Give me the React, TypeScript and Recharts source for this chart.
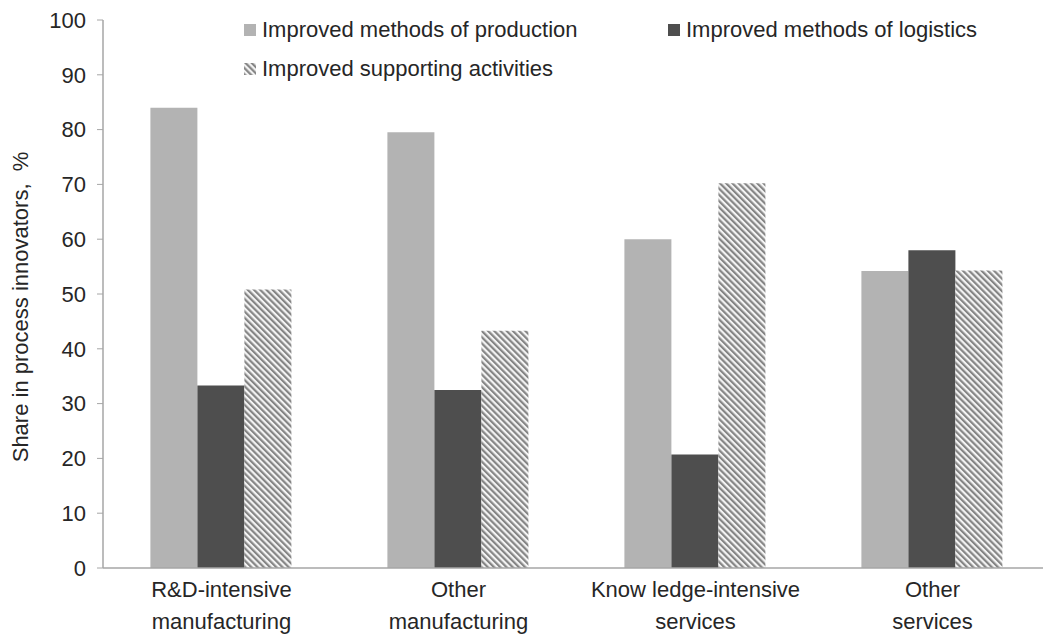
import { Bar, BarChart, Legend, XAxis, YAxis } from "recharts"

const categories = [
  "R&D-intensive\nmanufacturing",
  "Other\nmanufacturing",
  "Know ledge-intensive\nservices",
  "Other\nservices",
]
const production = [84, 79.5, 60, 54.2]
const logistics = [33.3, 32.5, 20.7, 58]
const supporting = [50.8, 43.3, 70.2, 54.3]
const yTicks = [0, 10, 20, 30, 40, 50, 60, 70, 80, 90, 100]

const seriesNames = [
  "Improved methods of production",
  "Improved methods of logistics",
  "Improved supporting activities",
]

const data = categories.map((name, i) => ({
  name,
  production: production[i],
  logistics: logistics[i],
  supporting: supporting[i],
}))

const FONT = "'Liberation Sans', Arial, sans-serif"
const TEXT = "#262626"
const AXIS = "#a6a6a6"
const LIGHT = "#b3b3b3"
const DARK = "#4e4e4e"

function Hatch({ id }: { id: string }) {
  return (
    <pattern
      id={id}
      width="4.4"
      height="4.4"
      patternUnits="userSpaceOnUse"
      patternTransform="rotate(-45)"
    >
      <rect width="4.4" height="4.4" fill="#f4f4f4" />
      <rect width="2.2" height="4.4" fill="#858585" />
    </pattern>
  )
}

function XTick({ x, y, payload }: any) {
  const lines = String(payload.value).split("\n")
  return (
    <text x={x} y={y} textAnchor="middle" fill={TEXT} fontSize={22} fontFamily={FONT}>
      {lines.map((l, i) => (
        <tspan key={i} x={x} dy={i === 0 ? 21 : 32}>
          {l}
        </tspan>
      ))}
    </text>
  )
}

function LegendContent() {
  const fills = [LIGHT, DARK, "url(#hatchLegend)"]
  return (
    <div
      style={{
        display: "flex",
        flexWrap: "wrap",
        width: 860,
        fontFamily: FONT,
        fontSize: 22,
        color: TEXT,
        lineHeight: "39px",
      }}
    >
      {seriesNames.map((n, i) => (
        <div key={n} style={{ width: 424, display: "flex", alignItems: "center" }}>
          <svg width={12} height={12} style={{ marginRight: 6 }}>
            <defs>
              <Hatch id="hatchLegend" />
            </defs>
            <rect width={12} height={12} fill={fills[i]} />
          </svg>
          <span>{n}</span>
        </div>
      ))}
    </div>
  )
}

export default function App() {
  return (
    <div
      style={{
        position: "fixed",
        left: 0,
        top: 0,
        width: 1043,
        height: 634,
        overflow: "hidden",
        background: "#fff",
      }}
    >
      <BarChart
        width={1060}
        height={634}
        data={data}
        margin={{ top: 20, right: 9, left: 0, bottom: 36 }}
        barCategoryGap="20%"
        barGap={0}
      >
        <defs>
          <Hatch id="hatchBar" />
        </defs>
        <XAxis
          dataKey="name"
          height={30}
          tickLine={false}
          axisLine={{ stroke: AXIS, strokeWidth: 1.5 }}
          tick={<XTick />}
          interval={0}
        />
        <YAxis
          width={103}
          domain={[0, 100]}
          ticks={yTicks}
          interval={0}
          axisLine={{ stroke: AXIS, strokeWidth: 1.5 }}
          tickLine={{ stroke: AXIS }}
          tickSize={6}
          tickMargin={11}
          tick={{ fill: TEXT, fontSize: 22, fontFamily: FONT }}
          label={{
            value: "Share in process innovators,\u00a0\u00a0%",
            angle: -90,
            position: "insideLeft",
            offset: 20,
            dy: 13,
            style: { textAnchor: "middle", fill: TEXT, fontSize: 22, fontFamily: FONT },
          }}
        />
        <Legend
          verticalAlign="middle"
          align="center"
          layout="horizontal"
          content={<LegendContent />}
          wrapperStyle={{ top: 10, left: 244, width: 860 }}
        />
        <Bar dataKey="production" name={seriesNames[0]} fill={LIGHT} isAnimationActive={false} />
        <Bar dataKey="logistics" name={seriesNames[1]} fill={DARK} isAnimationActive={false} />
        <Bar dataKey="supporting" name={seriesNames[2]} fill="url(#hatchBar)" isAnimationActive={false} />
      </BarChart>
    </div>
  )
}
